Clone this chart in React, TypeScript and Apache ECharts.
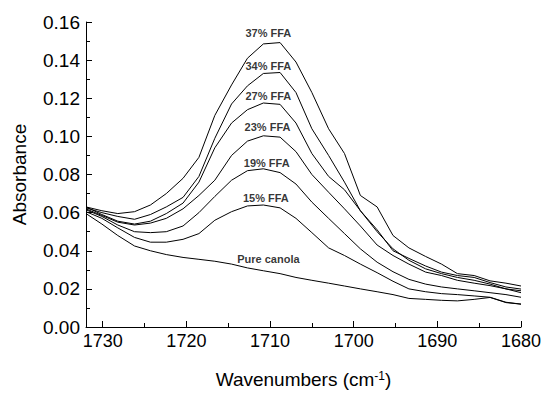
import React, { useEffect, useRef } from "react";
import * as echarts from "echarts";

const wavenumbers = [1732, 1730.1, 1728.2, 1726.2, 1724.3, 1722.4, 1720.4, 1718.5, 1716.6, 1714.6, 1712.7, 1710.8, 1708.8, 1706.9, 1705.0, 1703.0, 1701.1, 1699.2, 1697.2, 1695.3, 1693.4, 1691.4, 1689.5, 1687.6, 1685.6, 1683.7, 1681.8, 1680];

const ffa37 = [0.063, 0.061, 0.0595, 0.0605, 0.064, 0.070, 0.078, 0.089, 0.111, 0.127, 0.141, 0.1485, 0.1492, 0.139, 0.123, 0.104, 0.091, 0.069, 0.063, 0.048, 0.0415, 0.037, 0.033, 0.028, 0.027, 0.0242, 0.023, 0.0215];
const ffa34 = [0.0625, 0.060, 0.058, 0.0565, 0.059, 0.063, 0.068, 0.079, 0.099, 0.117, 0.1265, 0.133, 0.1335, 0.123, 0.104, 0.090, 0.076, 0.061, 0.051, 0.040, 0.036, 0.032, 0.0288, 0.027, 0.026, 0.0233, 0.021, 0.0199];
const ffa27 = [0.063, 0.059, 0.0555, 0.054, 0.0555, 0.0595, 0.065, 0.076, 0.094, 0.107, 0.114, 0.1175, 0.1168, 0.107, 0.091, 0.079, 0.072, 0.061, 0.050, 0.041, 0.035, 0.0305, 0.028, 0.026, 0.0245, 0.0225, 0.020, 0.019];
const ffa23 = [0.062, 0.0585, 0.055, 0.0535, 0.0545, 0.057, 0.062, 0.069, 0.077, 0.090, 0.0975, 0.1003, 0.0996, 0.092, 0.080, 0.0707, 0.062, 0.053, 0.043, 0.0375, 0.033, 0.0288, 0.027, 0.0245, 0.023, 0.0217, 0.020, 0.018];
const ffa19 = [0.0615, 0.058, 0.0535, 0.050, 0.0495, 0.050, 0.053, 0.060, 0.0685, 0.077, 0.082, 0.083, 0.081, 0.075, 0.0655, 0.057, 0.049, 0.041, 0.034, 0.029, 0.025, 0.0225, 0.021, 0.020, 0.019, 0.018, 0.017, 0.0156];
const ffa15 = [0.0605, 0.057, 0.052, 0.047, 0.0445, 0.0445, 0.046, 0.049, 0.056, 0.0605, 0.0635, 0.064, 0.0625, 0.057, 0.0495, 0.0415, 0.0375, 0.033, 0.0285, 0.024, 0.020, 0.0185, 0.0175, 0.017, 0.0163, 0.0156, 0.013, 0.012];
const pureCanola = [0.0595, 0.054, 0.048, 0.0425, 0.040, 0.038, 0.0365, 0.0355, 0.0345, 0.033, 0.031, 0.0295, 0.028, 0.026, 0.0245, 0.023, 0.0215, 0.020, 0.0185, 0.017, 0.015, 0.0145, 0.014, 0.0137, 0.0145, 0.0155, 0.0128, 0.012];

const seriesNames = ["37% FFA", "34% FFA", "27% FFA", "23% FFA", "19% FFA", "15% FFA", "Pure canola"];
const seriesValues = [ffa37, ffa34, ffa27, ffa23, ffa19, ffa15, pureCanola];

const labelTexts = ["37% FFA", "34% FFA", "27% FFA", "23% FFA", "19% FFA", "15% FFA", "Pure canola"];
const labelX = [1710.2, 1710.2, 1710.2, 1710.3, 1710.4, 1710.5, 1710.2];
const labelY = [0.1541, 0.1368, 0.1212, 0.1048, 0.0862, 0.0679, 0.0355];

const yTicks = { min: 0, max: 0.16, interval: 0.02 };
const xTicks = { min: 1680, max: 1732, interval: 10 };

const FONT = 'Arial, "Liberation Sans", Helvetica, sans-serif';

export default function App() {
  const ref = useRef<HTMLDivElement>(null);
  useEffect(() => {
    if (!ref.current) return;
    const chart = echarts.init(ref.current, null, { renderer: "svg" });
    const lineSeries = seriesValues.map((vals, i) => ({
      name: seriesNames[i],
      type: "line",
      data: wavenumbers.map((w, j) => [w, vals[j]]),
      showSymbol: false,
      symbol: "none",
      smooth: false,
      lineStyle: { color: "#000", width: 1 },
      silent: true,
    }));
    const labelSeries = {
      type: "scatter",
      symbolSize: 0,
      silent: true,
      data: labelTexts.map((t, i) => ({ name: t, value: [labelX[i], labelY[i]] })),
      label: {
        show: true,
        position: "inside",
        formatter: (p: any) => p.name,
        color: "#000",
        textBorderWidth: 0,
        fontFamily: FONT,
        fontWeight: "bold",
        fontSize: 11,
      },
    };
    chart.setOption({
      animation: false,
      backgroundColor: "#fff",
      grid: { left: 86, right: 24, top: 22, bottom: 64, containLabel: false },
      xAxis: {
        type: "value",
        min: xTicks.min,
        max: xTicks.max,
        interval: xTicks.interval,
        inverse: true,
        name: "{a|Wavenumbers (cm}{s|-1}{a|)}",
        nameLocation: "middle",
        nameGap: 43,
        nameTextStyle: {
          rich: {
            a: { fontFamily: FONT, fontSize: 19, color: "#000", verticalAlign: "bottom" },
            s: { fontFamily: FONT, fontSize: 12, color: "#000", verticalAlign: "top" },
          },
        },
        axisLine: { show: true, onZero: false, lineStyle: { color: "#000", width: 1 } },
        axisTick: { show: true, inside: true, length: 6, lineStyle: { color: "#000" } },
        minorTick: { show: true, splitNumber: 2, length: 4, lineStyle: { color: "#000" } },
        splitLine: { show: false },
        minorSplitLine: { show: false },
        axisLabel: {
          color: "#000",
          fontFamily: FONT,
          fontSize: 18,
          margin: 5,
          showMaxLabel: false,
          formatter: (v: number) => String(Math.round(v)),
        },
      },
      yAxis: {
        type: "value",
        min: yTicks.min,
        max: yTicks.max,
        interval: yTicks.interval,
        name: "Absorbance",
        nameLocation: "middle",
        nameGap: 57,
        nameRotate: 90,
        nameTextStyle: { fontFamily: FONT, fontSize: 19, color: "#000" },
        axisLine: { show: true, lineStyle: { color: "#000", width: 1 } },
        axisTick: { show: true, inside: true, length: 6, lineStyle: { color: "#000" } },
        minorTick: { show: true, splitNumber: 2, length: 4, lineStyle: { color: "#000" } },
        splitLine: { show: false },
        minorSplitLine: { show: false },
        axisLabel: {
          color: "#000",
          fontFamily: FONT,
          fontSize: 19,
          margin: 6,
          formatter: (v: number) => v.toFixed(2),
        },
      },
      series: [...lineSeries, labelSeries],
    });
    return () => chart.dispose();
  }, []);
  return (
    <div
      ref={ref}
      style={{ position: "fixed", left: 0, top: 0, width: 545, height: 394, background: "#fff" }}
    />
  );
}
